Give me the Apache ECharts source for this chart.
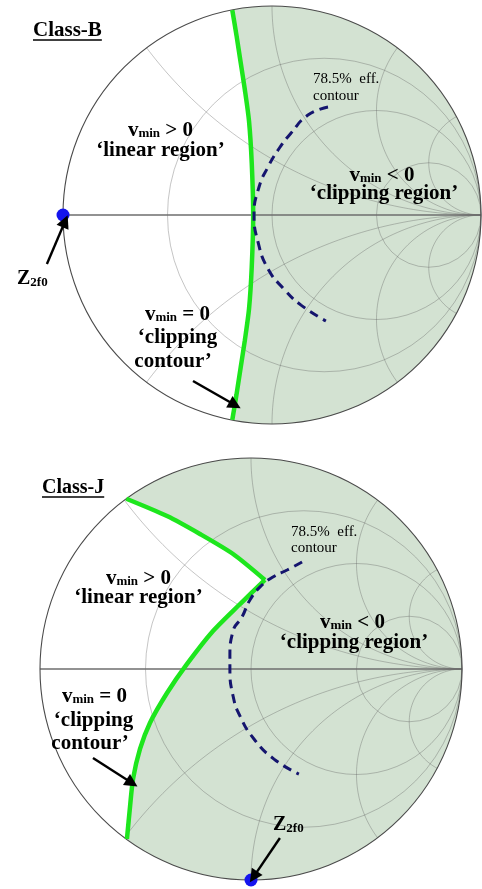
<!DOCTYPE html>
<html>
<head>
<meta charset="utf-8">
<script src="https://cdn.jsdelivr.net/npm/echarts@6/dist/echarts.min.js"></script>
<style>
  html, body { margin: 0; padding: 0; background: #fff; }
  #chart { width: 482px; height: 889px; }
</style>
</head>
<body>
<div id="chart"></div>
<script>
// Smith chart grid: constant-resistance circles and constant-reactance arcs
const resistanceCircles = [1 / 3, 1, 3];
const reactanceArcs = [0.5, 1, 2, 4];

// Class-B: vmin = 0 clipping contour, reflection coefficient [re, im]
const clipContourB = [
  [-0.19, 0.98], [-0.17, 0.86], [-0.15, 0.73], [-0.13, 0.6], [-0.11, 0.45],
  [-0.097, 0.25], [-0.09, 0], [-0.097, -0.25], [-0.11, -0.45], [-0.13, -0.6],
  [-0.15, -0.73], [-0.17, -0.86], [-0.19, -0.98]
];
// Class-B: 78.5% efficiency contour
const effContourB = [
  [0.268, 0.517], [0.172, 0.478], [0.091, 0.392], [0.029, 0.311], [-0.019, 0.23],
  [-0.062, 0.134], [-0.086, 0], [-0.067, -0.129], [-0.019, -0.258], [0.057, -0.354],
  [0.139, -0.431], [0.258, -0.507]
];
// Class-B: second-harmonic termination
const z2f0B = [[-1, 0]];

// Class-J: vmin = 0 clipping contour (two branches meeting at the kink)
const clipContourJUpper = [
  [-0.591, 0.807], [-0.398, 0.725], [-0.242, 0.64], [-0.085, 0.545], [0.066, 0.422]
];
const clipContourJLower = [
  [0.066, 0.422], [-0.052, 0.308], [-0.18, 0.18], [-0.303, 0.024], [-0.398, -0.114],
  [-0.479, -0.256], [-0.526, -0.379], [-0.559, -0.521], [-0.573, -0.649], [-0.588, -0.806]
];
// Class-J: 78.5% efficiency contour
const effContourJ = [
  [0.242, 0.507], [0.171, 0.469], [0.104, 0.436], [0.043, 0.389], [-0.005, 0.327],
  [-0.043, 0.246], [-0.085, 0.18], [-0.1, 0.057], [-0.1, 0], [-0.085, -0.128],
  [-0.052, -0.223], [0.014, -0.332], [0.109, -0.427], [0.227, -0.498]
];
// Class-J: second-harmonic termination
const z2f0J = [[0, -1]];

// Annotation arrows [from, to], in reflection-coefficient units
const arrowsB = [
  [[-1.077, -0.234], [-0.99, -0.03]],
  [[-0.378, -0.794], [-0.177, -0.909]]
];
const arrowsJ = [
  [[-0.749, -0.422], [-0.564, -0.54]],
  [[0.137, -0.801], [0.012, -0.985]]
];

const SHADE = '#d3e2d2';
const GRID = 'rgba(95,95,95,0.36)';
const GREEN = '#1de61d';
const NAVY = '#15156e';
const DOT = '#1414ee';
const FONT = '"Liberation Serif", "Times New Roman", serif';

// Shaded clipping region: contour plus the chart rim on the right-hand side
function fillRenderer(contour) {
  return function (params, api) {
    const pts = contour.map(p => api.coord(p));
    const last = contour[contour.length - 1];
    const first = contour[0];
    const a0 = Math.atan2(last[1], last[0]);
    const a1 = Math.atan2(first[1], first[0]);
    const n = 120;
    for (let i = 1; i < n; i++) {
      const a = a0 + (a1 - a0) * i / n;
      pts.push(api.coord([Math.cos(a), Math.sin(a)]));
    }
    return { type: 'polygon', shape: { points: pts }, style: { fill: SHADE, stroke: null } };
  };
}

// Smith chart grid lines
function gridRenderer(params, api) {
  const children = [];
  const lineStyle = { stroke: GRID, lineWidth: 1, fill: null };
  resistanceCircles.forEach(r => {
    const c = api.coord([r / (1 + r), 0]);
    const rad = api.size([1 / (1 + r), 0])[0];
    children.push({ type: 'circle', shape: { cx: c[0], cy: c[1], r: rad }, style: lineStyle });
  });
  reactanceArcs.forEach(x => {
    [1, -1].forEach(sign => {
      const cy = 1 / x;
      const rad = 1 / x;
      const p2 = [(x * x - 1) / (x * x + 1), 2 * x / (x * x + 1)];
      const t1 = -Math.PI / 2;
      let t2 = Math.atan2(p2[1] - cy, p2[0] - 1);
      if (t2 > t1) t2 -= 2 * Math.PI;
      const pts = [];
      const n = 80;
      for (let i = 0; i <= n; i++) {
        const t = t1 + (t2 - t1) * i / n;
        pts.push(api.coord([1 + rad * Math.cos(t), sign * (cy + rad * Math.sin(t))]));
      }
      children.push({ type: 'polyline', shape: { points: pts }, style: lineStyle });
    });
  });
  const o = api.coord([0, 0]);
  const R = api.size([1, 0])[0];
  const l = api.coord([-1, 0]);
  const rr = api.coord([1, 0]);
  children.push({ type: 'line', shape: { x1: l[0], y1: l[1], x2: rr[0], y2: rr[1] },
    style: { stroke: '#6e6e6e', lineWidth: 1.6 } });
  children.push({ type: 'circle', shape: { cx: o[0], cy: o[1], r: R },
    style: { stroke: '#4a4a4a', lineWidth: 1.1, fill: null } });
  return { type: 'group', children: children };
}

function chartSeries(idx, fillContour, clipLines, effContour, z2f0, arrows) {
  const base = { xAxisIndex: idx, yAxisIndex: idx };
  const list = [
    Object.assign({ type: 'custom', coordinateSystem: 'cartesian2d', data: [[0, 0]], silent: true,
      clip: false, z: 1, renderItem: fillRenderer(fillContour) }, base),
    Object.assign({ type: 'custom', coordinateSystem: 'cartesian2d', data: [[0, 0]], silent: true,
      clip: false, z: 2, renderItem: gridRenderer }, base)
  ];
  clipLines.forEach(d => list.push(Object.assign({
    type: 'line', data: d, showSymbol: false, symbol: 'none', smooth: 0.25, clip: false, z: 4,
    lineStyle: { color: GREEN, width: 4.5 }
  }, base)));
  list.push(Object.assign({
    type: 'line', data: effContour, showSymbol: false, symbol: 'none', smooth: true, clip: false, z: 5,
    lineStyle: { color: NAVY, width: 3, type: [9, 6] }
  }, base));
  list.push(Object.assign({
    type: 'scatter', data: z2f0, symbol: 'circle', symbolSize: 13, clip: false, z: 6,
    itemStyle: { color: DOT, opacity: 1 }
  }, base));
  list.push(Object.assign({
    type: 'lines', coordinateSystem: 'cartesian2d', clip: false, z: 7,
    symbol: ['none', 'triangle'], symbolSize: 13,
    lineStyle: { color: '#000', width: 2.4, opacity: 1, curveness: 0 },
    itemStyle: { color: '#000' },
    data: arrows.map(a => ({ coords: a }))
  }, base));
  return list;
}

// Text helpers
const measureCtx = document.createElement('canvas').getContext('2d');
function fontStr(size, bold) { return (bold ? 'bold ' : '') + size + 'px ' + FONT; }
function measure(t, size, bold) { measureCtx.font = fontStr(size, bold); return measureCtx.measureText(t).width; }
function txt(t, x, baseline, size, bold, align) {
  return {
    type: 'text', z: 100, x: x, y: baseline - 0.32 * size,
    style: { text: t, font: fontStr(size, bold), fill: '#000',
      align: align || 'left', verticalAlign: 'middle',
      textAlign: align || 'left', textVerticalAlign: 'middle' }
  };
}
function runLabel(parts, cx, baseline) {
  const widths = parts.map(p => measure(p[0], p[1], true));
  let x = cx - widths.reduce((a, b) => a + b, 0) / 2;
  return parts.map((p, i) => {
    const e = txt(p[0], x, baseline + (p[2] || 0), p[1], true);
    x += widths[i];
    return e;
  });
}
function leftLabel(parts, left, baseline) {
  const widths = parts.map(p => measure(p[0], p[1], true));
  const total = widths.reduce((a, b) => a + b, 0);
  return runLabel(parts, left + total / 2, baseline);
}
function title(t, left, baseline, size) {
  const w = measure(t, size, true);
  return [
    txt(t, left, baseline, size, true),
    { type: 'line', z: 100, shape: { x1: left, y1: baseline + 3, x2: left + w, y2: baseline + 3 },
      style: { stroke: '#000', lineWidth: 1.4 } }
  ];
}

const BIG = 21, SUB = 13;
const graphics = [].concat(
  // Class-B
  title('Class-B', 33, 37, 21),
  runLabel([['v', BIG], ['min', SUB, 1], [' > 0', BIG]], 160.5, 137),
  runLabel([['\u2018linear region\u2019', BIG]], 160.5, 157),
  [txt('78.5%  eff.', 313, 84, 15, false), txt('contour', 313, 101, 15, false)],
  runLabel([['v', BIG], ['min', SUB, 1], [' < 0', BIG]], 382, 182),
  runLabel([['\u2018clipping region\u2019', BIG]], 384, 200),
  runLabel([['v', BIG], ['min', SUB, 1], [' = 0', BIG]], 177.5, 321),
  runLabel([['\u2018clipping', BIG]], 177.5, 344),
  runLabel([['contour\u2019', BIG]], 173, 368),
  leftLabel([['Z', 20], ['2f0', SUB, 2]], 17, 285),
  // Class-J
  title('Class-J', 42, 494, 20),
  runLabel([['v', BIG], ['min', SUB, 1], [' > 0', BIG]], 138.5, 585),
  runLabel([['\u2018linear region\u2019', BIG]], 138.5, 604),
  [txt('78.5%  eff.', 291, 537, 15, false), txt('contour', 291, 553, 15, false)],
  runLabel([['v', BIG], ['min', SUB, 1], [' < 0', BIG]], 352.5, 629),
  runLabel([['\u2018clipping region\u2019', BIG]], 354, 649),
  runLabel([['v', BIG], ['min', SUB, 1], [' = 0', BIG]], 94.5, 703),
  runLabel([['\u2018clipping', BIG]], 93.5, 727),
  runLabel([['contour\u2019', BIG]], 90, 750),
  leftLabel([['Z', 20], ['2f0', SUB, 2]], 273, 831)
);

const axisCommon = { type: 'value', min: -1, max: 1, show: false };
const chart = echarts.init(document.getElementById('chart'), null, { renderer: 'canvas' });
chart.setOption({
  animation: false,
  backgroundColor: '#fff',
  grid: [
    { left: 63, top: 6, width: 418, height: 418 },
    { left: 40, top: 458, width: 422, height: 422 }
  ],
  xAxis: [Object.assign({ gridIndex: 0 }, axisCommon), Object.assign({ gridIndex: 1 }, axisCommon)],
  yAxis: [Object.assign({ gridIndex: 0 }, axisCommon), Object.assign({ gridIndex: 1 }, axisCommon)],
  series: [].concat(
    chartSeries(0, clipContourB, [clipContourB], effContourB, z2f0B, arrowsB),
    chartSeries(1, clipContourJUpper.concat(clipContourJLower.slice(1)),
      [clipContourJUpper, clipContourJLower], effContourJ, z2f0J, arrowsJ)
  ),
  graphic: { elements: graphics }
});
</script>
</body>
</html>
